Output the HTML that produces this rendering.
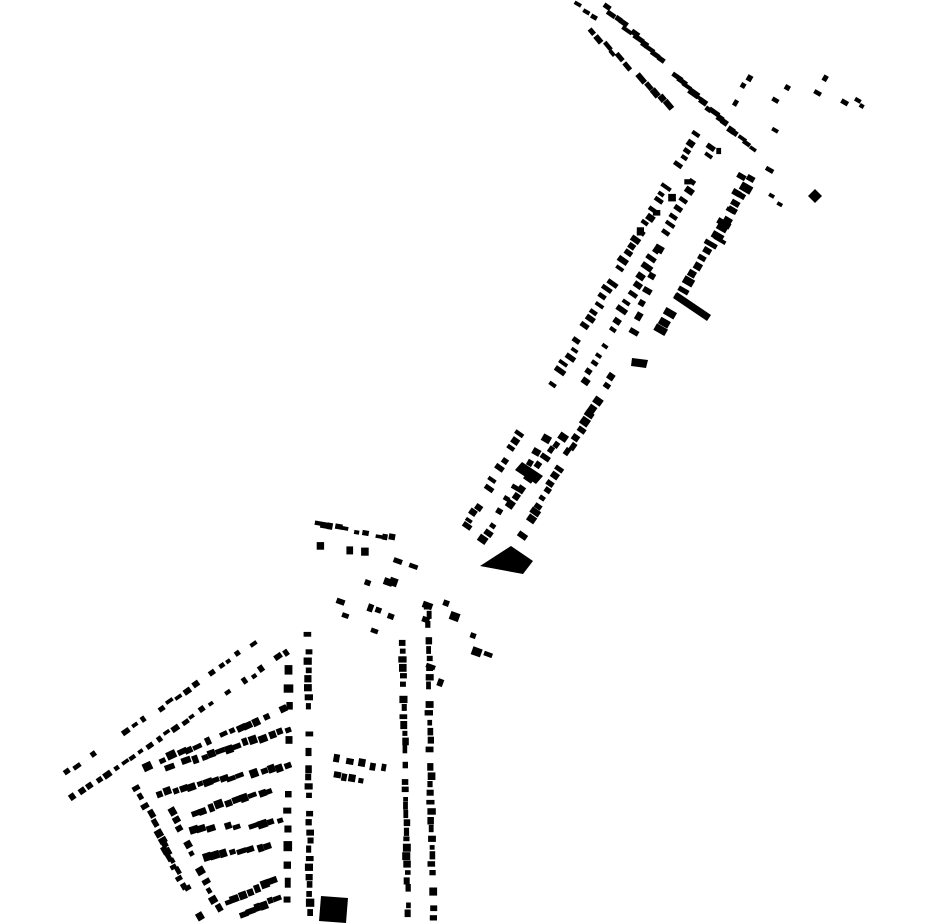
<!DOCTYPE html>
<html><head><meta charset="utf-8"><style>html,body{margin:0;padding:0;background:#fff;width:930px;height:924px;overflow:hidden}svg{display:block}</style></head>
<body>
<svg id="s" width="930" height="924" viewBox="0 0 930 924" xmlns="http://www.w3.org/2000/svg">
<polygon points="480,566 511,546 533,561 523,574" fill="#000"/>
<polygon points="321,896 348,898 346,923 319,921" fill="#000"/>
<polygon points="808,196 815,189 822,196 815,203" fill="#000"/>
<polygon points="673,298 677,292 711,315 707,321" fill="#000"/>
<polygon points="632,358 648,360 646,368 631,366" fill="#000"/>
<polygon points="515,470 522,462 543,476 536,484" fill="#000"/>
</svg>
<script>
var s=document.getElementById('s');var seed=7;var K=1.3;function r(){seed=(seed*9301+49297)%233280;return seed/233280;}
function row(x1,y1,x2,y2,n,w,h,ang,j){j=j||1.5;w*=K;h*=K;for(var i=0;i<n;i++){if(r()<0.15)continue;var t=n>1?i/(n-1):0;var x=x1+(x2-x1)*t+(r()-.5)*j*2,y=y1+(y2-y1)*t+(r()-.5)*j*2;var ww=w*(0.7+r()*0.6),hh=h*(0.7+r()*0.6);var e=document.createElementNS('http://www.w3.org/2000/svg','rect');e.setAttribute('x',(-ww/2).toFixed(1));e.setAttribute('y',(-hh/2).toFixed(1));e.setAttribute('width',ww.toFixed(1));e.setAttribute('height',hh.toFixed(1));e.setAttribute('transform','translate('+x.toFixed(1)+','+y.toFixed(1)+') rotate('+ang+')');s.appendChild(e);}}
function pts(a,w,h,ang){for(var i=0;i<a.length;i+=2)row(a[i],a[i+1],a[i],a[i+1],1,w,h,ang||0,0.5);}
row(607,8,752,150,28,7,4,35);row(593,32,668,105,12,7,4,50);row(578,3,595,18,3,5,4,30);
row(700,128,552,386,36,7,4,35);row(712,148,585,380,28,7,4,35);row(750,180,660,330,20,8,5,30);row(740,178,720,240,5,9,4,30);
row(660,250,630,345,8,6,5,30);row(720,150,640,230,6,5,5,0);
row(610,378,522,535,22,6,5,35);row(520,435,466,526,15,6,4,35);row(562,436,482,540,15,6,5,35);row(545,440,500,510,7,6,5,30);
pts([750,78,743,85,735,103,787,88,775,100,825,78,818,93,845,102,858,100,862,106,775,130,780,204,770,170,733,92,772,196],5,4,30);
row(317,523,392,538,12,5,4,10);row(320,546,380,553,5,5,5,0);
pts([398,561,414,566,368,583,388,582,393,582,340,602,328,621,345,616,370,608,378,610,391,616,374,631,428,606,426,620,446,603,455,617,473,636,495,641,477,652,488,654,440,683,431,666],6,5,20);
row(308,635,310,912,32,5,5,0,1);row(403,643,408,913,34,5,5,0,1);row(428,606,433,918,36,5,5,0,1);
row(289,670,287,900,14,6,6,0,1);
row(263,637,67,773,24,5,4,-35);row(287,652,73,797,26,5,4,-35);row(283,710,147,767,17,6,5,-25);row(288,730,170,767,15,6,5,-20);
row(287,765,160,793,17,6,5,-20);row(278,788,187,815,12,6,5,-20);row(280,822,193,830,11,6,5,-18);row(277,843,207,858,9,6,5,-18);
row(280,877,228,902,8,6,5,-20);row(277,898,237,917,7,6,5,-20);
row(137,787,200,917,15,5,5,60);row(157,830,183,887,7,5,5,60);row(172,810,218,908,12,5,5,60);
row(338,758,385,768,5,5,5,10);row(336,775,362,780,4,5,5,10);
</script>
</body></html>
